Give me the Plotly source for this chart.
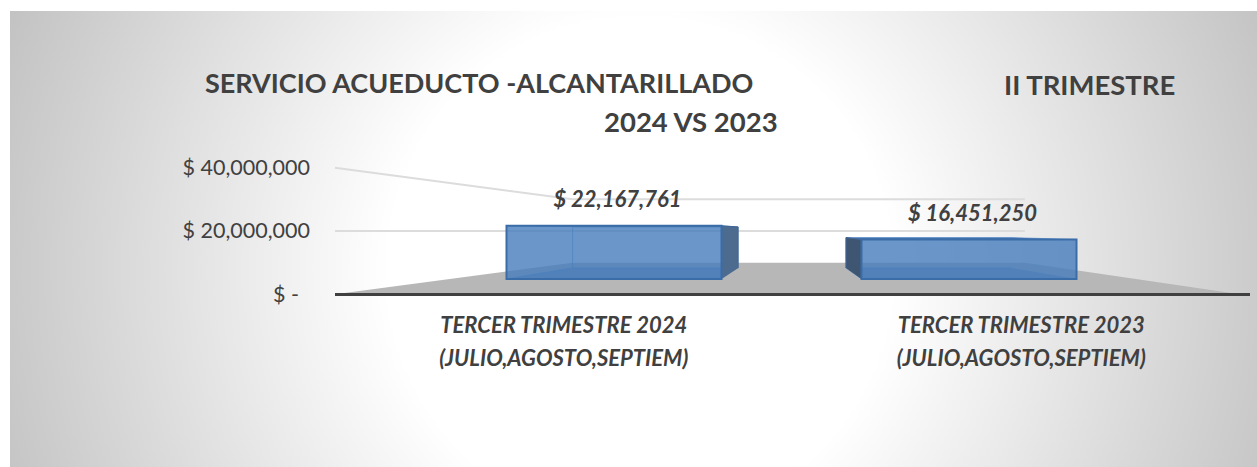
import base64
import plotly.graph_objects as go

# ---- data ----
categories_line1 = ["TERCER TRIMESTRE 2024", "TERCER TRIMESTRE 2023"]
categories_line2 = ["(JULIO,AGOSTO,SEPTIEM)", "(JULIO,AGOSTO,SEPTIEM)"]
bar_positions = [0, 1]
values = [22167761, 16451250]
tick_values = [0, 20000000, 40000000]
tick_labels = ["$ -\u00a0\u00a0", "$ 20,000,000", "$ 40,000,000"]
title_left = "SERVICIO ACUEDUCTO -ALCANTARILLADO"
title_right = "II TRIMESTRE"
title_second = "2024 VS 2023"

# ---- page / view ----
W, H = 1257, 467
FONT = "Lato"
TXT = "#404040"
PX_PER_UNIT = 2.4e-6           # px per peso on the plane of the bar fronts
Y0_PX = 279                    # pixel row of value 0 on that plane
X0_PX, X_UNIT_PX = 614, 355    # pixel column of bar 0, px between bars
BAR_W = 215 / 355
VX, VY = 0.507, 20000000       # vanishing point
WALL_VX = 0.552
BAR_DEPTH = 0.77
WALL_FRONT, WALL_BACK = 1.32, 0.66
WALL_L, WALL_R = -0.786, 1.763

xr = [-X0_PX / X_UNIT_PX, (W - X0_PX) / X_UNIT_PX]
yr = [(Y0_PX - H) / PX_PER_UNIT, Y0_PX / PX_PER_UNIT]


def py(v, s=1.0):
    return VY + s * (v - VY)


def px_bar(x, s=1.0):
    return VX + s * (x - VX)


def px_wall(x):
    return WALL_VX + 0.5 * (x - WALL_VX)


fig = go.Figure()
hidden = dict(visible=False, showgrid=False, zeroline=False, fixedrange=True)


def poly(xs, ys, fill, line=None, width=1, sub=("x", "y")):
    fig.add_trace(go.Scatter(
        x=xs, y=ys, mode="lines", fill="toself", fillcolor=fill, hoverinfo="skip",
        line=dict(color=line or "rgba(0,0,0,0)", width=width if line else 0),
        xaxis=sub[0], yaxis=sub[1], showlegend=False))


def seg(xs, ys, color, width, sub=("x", "y")):
    fig.add_trace(go.Scatter(
        x=xs, y=ys, mode="lines", hoverinfo="skip", line=dict(color=color, width=width),
        xaxis=sub[0], yaxis=sub[1], showlegend=False))


# floor
poly([WALL_L, px_wall(WALL_L), px_wall(WALL_R), WALL_R],
     [py(0, WALL_FRONT), py(0, WALL_BACK), py(0, WALL_BACK), py(0, WALL_FRONT)],
     "#b7b7b7")
# gridlines on the side and back walls
for t in tick_values[1:]:
    seg([WALL_L, px_wall(WALL_L), px_wall(WALL_R)],
        [py(t, WALL_FRONT), py(t, WALL_BACK), py(t, WALL_BACK)], "#dcdcdc", 2)

# bar interiors and sides behind the front face
for pos, val in zip(bar_positions, values):
    l, r = pos - BAR_W / 2, pos + BAR_W / 2
    bl, br = px_bar(l, BAR_DEPTH), px_bar(r, BAR_DEPTH)
    b0, bt = py(0, BAR_DEPTH), py(val, BAR_DEPTH)
    poly([l, r, br, bl], [0, 0, b0, b0], "rgba(50,100,170,0.40)")
    poly([l, r, br, bl], [val, val, bt, bt], "rgba(50,100,165,0.9)")
    seg([l, bl, bl, br, r], [0, b0, bt, bt, val], "rgba(70,130,200,0.6)", 1)
    seg([bl, br], [b0, b0], "rgba(70,130,200,0.6)", 1)
    if pos < VX:
        side_x, side_bx = r, br
        col = "#4d6b8f"
    else:
        side_x, side_bx = l, bl
        col = "#3f5673"
    side_front = [side_x, side_x]
    poly(side_front + [side_bx, side_bx], [0, val, bt, b0], col, "#3f6596", 1)

# front faces, on an overlaid pair of axes so they sit above the sides
fig.add_trace(go.Bar(
    x=bar_positions, y=values, width=BAR_W, xaxis="x2", yaxis="y2",
    marker=dict(color="rgba(70,124,188,0.80)", line=dict(color="#3a6ca8", width=2)),
    hoverinfo="skip", showlegend=False))
fig.add_trace(go.Scatter(
    x=[p + 3.5 / X_UNIT_PX for p in bar_positions],
    y=[v + 24 / PX_PER_UNIT for v in values], mode="text",
    text=["$ {:,}".format(v) for v in values], textposition="middle center",
    xaxis="x2", yaxis="y2", showlegend=False, hoverinfo="skip",
    textfont=dict(family=FONT, size=22, color=TXT, weight="bold", style="italic")))

# category axes and value axis
for name, labels in (("x3", categories_line1), ("x4", categories_line2)):
    fig.add_trace(go.Scatter(
        x=list(range(len(labels))), y=[0, 0], mode="markers", marker=dict(opacity=0),
        xaxis=name, yaxis="y3", showlegend=False, hoverinfo="skip"))

AX_L, AX_R = 335, 1250
cat_font = dict(family=FONT, size=22, color=TXT, weight="bold", style="italic")
cat_axis = dict(domain=[AX_L / W, AX_R / W], range=[-0.5, 1.5], tickmode="array",
                tickvals=bar_positions, anchor="free", showgrid=False, zeroline=False,
                ticks="", tickfont=cat_font, fixedrange=True, tickangle=0)
layout_axes = dict(
    xaxis=dict(range=xr, domain=[0, 1], **hidden),
    yaxis=dict(range=yr, domain=[0, 1], **hidden),
    xaxis2=dict(range=xr, overlaying="x", **hidden),
    yaxis2=dict(range=yr, overlaying="y", **hidden),
    xaxis3=dict(ticktext=categories_line1, position=(H - 294) / H, showline=True,
                linecolor="#404040", linewidth=3, ticklabelstandoff=11, **cat_axis),
    xaxis4=dict(ticktext=categories_line2, position=(H - 332) / H, showline=False,
                ticklabelstandoff=11, **cat_axis),
    yaxis3=dict(domain=[0, 1], range=[(294 - H) / 3.175e-6, 294 / 3.175e-6],
                anchor="free", position=310 / W, tickmode="array", tickvals=tick_values,
                ticktext=tick_labels, showgrid=False, zeroline=False, showline=False,
                ticks="", fixedrange=True, tickfont=dict(family=FONT, size=21.5, color=TXT)),
)

svg = f"""<svg xmlns='http://www.w3.org/2000/svg' width='{W-10}' height='{H-11}'>
<defs><radialGradient id='g' gradientUnits='userSpaceOnUse' cx='630' cy='259' r='720'>
<stop offset='0' stop-color='#ffffff'/><stop offset='0.35' stop-color='#ffffff'/>
<stop offset='1' stop-color='#bdbdbd'/></radialGradient></defs>
<rect width='100%' height='100%' fill='url(#g)'/></svg>"""
bg = "data:image/svg+xml;base64," + base64.b64encode(svg.encode()).decode()

title_font = dict(family=FONT, size=27.5, color=TXT, weight="bold")
fig.update_layout(
    width=W, height=H, margin=dict(l=0, r=0, t=0, b=0), autosize=False,
    paper_bgcolor="white", plot_bgcolor="rgba(0,0,0,0)", showlegend=False, barmode="overlay",
    title=dict(text=title_left, x=205 / W, xanchor="left", y=1 - 84 / H, yanchor="middle",
               font=dict(family=FONT, size=27, color=TXT, weight="bold")),
    images=[dict(source=bg, xref="paper", yref="paper", x=10 / W, y=1 - 11 / H,
                 sizex=(W - 10) / W, sizey=(H - 11) / H, xanchor="left", yanchor="top",
                 sizing="stretch", layer="below")],
    annotations=[
        dict(text=title_right, xref="paper", yref="paper", x=1089 / W, y=1 - 84 / H,
             showarrow=False, font=title_font, xanchor="center", yanchor="middle"),
        dict(text=title_second, xref="paper", yref="paper", x=691 / W, y=1 - 122 / H,
             showarrow=False, font=title_font, xanchor="center", yanchor="middle"),
    ],
    **layout_axes,
)
fig.write_html("out.html", post_script="document.body.style.margin='0';",
               config={"displayModeBar": False})
